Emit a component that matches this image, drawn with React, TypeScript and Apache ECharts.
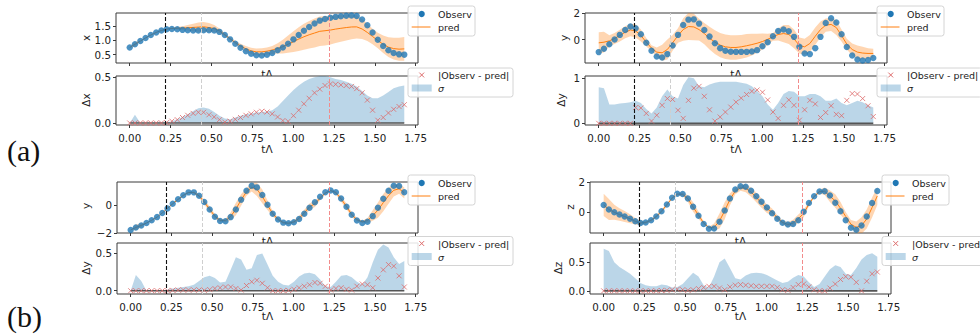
import React, { useEffect, useRef } from "react";
import * as echarts from "echarts";

// ---------- data ----------
const T = [0,0.032,0.065,0.097,0.129,0.162,0.194,0.226,0.258,0.291,0.323,0.355,0.388,0.42,0.452,0.485,0.517,0.549,0.582,0.614,0.646,0.678,0.711,0.743,0.775,0.808,0.84,0.872,0.905,0.937,0.969,1.002,1.034,1.066,1.098,1.131,1.163,1.195,1.228,1.26,1.292,1.325,1.357,1.389,1.422,1.454,1.486,1.518,1.551,1.583,1.615,1.648,1.68];
const EVENT_T = [0.22, 0.44, 1.22];
const X_TICKS = [0, 0.25, 0.5, 0.75, 1.0, 1.25, 1.5, 1.75];
const X_TICK_LABELS = ["0.00", "0.25", "0.50", "0.75", "1.00", "1.25", "1.50", "1.75"];

// (a) x
const OBS_AX = [0.75,0.86,0.97,1.08,1.18,1.27,1.34,1.38,1.39,1.38,1.36,1.35,1.34,1.34,1.35,1.35,1.34,1.29,1.18,1.03,0.88,0.74,0.62,0.53,0.48,0.47,0.5,0.56,0.65,0.75,0.88,1.03,1.18,1.33,1.46,1.58,1.68,1.74,1.78,1.81,1.83,1.85,1.86,1.84,1.72,1.52,1.27,1.02,0.8,0.65,0.56,0.51,0.5];
const PRED_AX = [0.75,0.86,0.97,1.08,1.18,1.27,1.34,1.385,1.41,1.416,1.42,1.434,1.445,1.457,1.467,1.44,1.406,1.326,1.19,1.05,0.92,0.8,0.704,0.63,0.597,0.598,0.62,0.66,0.716,0.776,0.862,0.95,1.04,1.12,1.19,1.25,1.31,1.33,1.353,1.387,1.414,1.44,1.46,1.464,1.39,1.27,1.13,0.99,0.86,0.76,0.71,0.69,0.7];
const SIGMA_AX = [0,0.09,0,0.003,0.003,0.003,0.004,0.006,0.02,0.04,0.065,0.095,0.13,0.16,0.17,0.155,0.12,0.08,0.05,0.04,0.06,0.08,0.095,0.105,0.115,0.12,0.125,0.14,0.18,0.24,0.3,0.36,0.41,0.45,0.48,0.5,0.51,0.51,0.5,0.48,0.47,0.45,0.43,0.4,0.35,0.3,0.27,0.27,0.3,0.34,0.38,0.4,0.41];
const ERR_AX = [0,0,0,0,0,0,0,0.005,0.02,0.036,0.06,0.084,0.105,0.117,0.117,0.09,0.066,0.036,0.01,0.02,0.04,0.06,0.084,0.1,0.117,0.128,0.12,0.1,0.066,0.026,0.018,0.08,0.14,0.21,0.27,0.33,0.37,0.41,0.427,0.423,0.416,0.41,0.4,0.376,0.33,0.25,0.14,0.03,0.06,0.11,0.15,0.18,0.2];

// (a) y
const OBS_AY = [-0.95,-0.7,-0.35,0.0,0.35,0.72,0.98,0.85,0.4,-0.25,-0.85,-1.28,-1.35,-1.1,-0.45,0.35,1.1,1.5,1.52,1.2,0.72,0.22,-0.28,-0.65,-0.85,-0.92,-0.93,-0.93,-0.93,-0.9,-0.8,-0.5,-0.2,0.25,0.65,0.76,0.62,0.2,-0.55,-1.05,-1.1,-0.65,0.2,1.25,1.6,1.28,0.4,-0.57,-1.2,-1.5,-1.58,-1.55,-1.4];
const PRED_AY = [-0.25,-0.2,-0.1,0.08,0.3,0.55,0.72,0.65,0.3,-0.2,-0.65,-0.95,-1.0,-0.75,-0.25,0.3,0.75,0.98,0.95,0.75,0.45,0.1,-0.2,-0.42,-0.55,-0.6,-0.6,-0.55,-0.47,-0.38,-0.28,-0.15,0.02,0.2,0.38,0.45,0.38,0.05,-0.45,-0.55,-0.3,0.25,0.75,1.08,1.14,0.9,0.3,-0.35,-0.75,-0.95,-1.02,-1.05,-1.05];
const SIGMA_AY = [0.8,0.78,0.42,0.42,0.44,0.45,0.47,0.5,0.45,0.32,0.22,0.35,0.6,0.75,0.6,0.55,0.85,1.02,1.0,0.82,0.8,0.86,0.9,0.92,0.92,0.92,0.92,0.9,0.88,0.82,0.72,0.6,0.42,0.3,0.45,0.65,0.72,0.7,0.6,0.6,0.65,0.65,0.6,0.5,0.5,0.55,0.45,0.4,0.45,0.5,0.47,0.4,0.35];
const ERR_AY = [0,0,0,0,0,0,0,0.35,0.34,0.22,0.05,0.18,0.4,0.55,0.53,0.29,0.11,0.51,0.78,0.82,0.6,0.3,0.05,0.14,0.25,0.36,0.47,0.56,0.64,0.71,0.74,0.69,0.52,0.25,0.11,0.4,0.52,0.4,0.07,0.3,0.51,0.43,0.13,0.24,0.39,0.2,0.17,0.51,0.66,0.65,0.55,0.39,0.15];

// (b) y
const OBS_BY = [-1.78,-1.6,-1.45,-1.28,-1.08,-0.85,-0.55,-0.22,0.12,0.44,0.73,0.94,0.94,0.7,0.24,-0.3,-0.82,-1.13,-1.15,-0.85,-0.3,0.4,1.05,1.42,1.3,0.75,0.05,-0.6,-1.02,-1.25,-1.3,-1.22,-0.98,-0.6,-0.18,0.22,0.62,0.95,1.08,0.95,0.5,-0.1,-0.68,-1.1,-1.28,-1.18,-0.78,-0.18,0.48,1.05,1.42,1.4,0.95];
const PRED_BY = [-1.78,-1.6,-1.45,-1.28,-1.08,-0.85,-0.55,-0.22,0.115,0.43,0.72,0.93,0.93,0.69,0.235,-0.285,-0.79,-1.09,-1.1,-0.8,-0.27,0.39,0.98,1.3,1.16,0.65,0.01,-0.6,-1.02,-1.25,-1.295,-1.2,-0.94,-0.54,-0.1,0.11,0.52,0.89,1.07,0.92,0.46,-0.08,-0.67,-1.04,-1.19,-1.1,-0.74,-0.35,0.2,0.7,1.09,1.2,0.9];
const SIGMA_BY = [0,0.21,0.13,0,0,0,0,0.015,0.03,0.04,0.05,0.06,0.08,0.13,0.18,0.2,0.17,0.11,0.12,0.28,0.45,0.42,0.28,0.3,0.48,0.5,0.35,0.2,0.12,0.08,0.07,0.12,0.19,0.23,0.24,0.22,0.15,0.06,0.05,0.12,0.2,0.21,0.18,0.12,0.08,0.18,0.38,0.55,0.62,0.58,0.45,0.36,0.4];
const ERR_BY = [0,0,0,0,0,0,0,0,0.005,0.01,0.01,0.01,0.01,0.01,0.005,0.015,0.03,0.04,0.05,0.05,0.03,0.01,0.07,0.12,0.14,0.1,0.04,0,0,0,0.005,0.02,0.04,0.06,0.08,0.11,0.1,0.06,0.01,0.03,0.04,0.02,0.01,0.06,0.09,0.08,0.04,0.17,0.28,0.35,0.33,0.2,0.05];

// (b) z
const OBS_BZ = [0.47,0.17,-0.02,-0.17,-0.3,-0.45,-0.62,-0.73,-0.7,-0.55,-0.3,0.05,0.5,0.95,1.22,1.2,0.9,0.35,-0.25,-0.8,-1.12,-1.1,-0.65,0.1,0.9,1.5,1.72,1.68,1.42,1.05,0.68,0.3,-0.08,-0.45,-0.72,-0.84,-0.8,-0.55,0.02,0.6,1.05,1.36,1.38,1.1,0.62,0.05,-0.55,-1.05,-1.18,-0.9,-0.3,0.6,1.4];
const PRED_BZ = [0.47,0.17,-0.02,-0.17,-0.3,-0.45,-0.62,-0.73,-0.7,-0.55,-0.3,0.045,0.49,0.93,1.19,1.18,0.89,0.33,-0.21,-0.74,-1.04,-1.02,-0.6,0.08,0.83,1.4,1.61,1.58,1.33,0.97,0.6,0.22,0.0,-0.39,-0.7,-0.83,-0.74,-0.44,-0.1,0.53,1.03,1.36,1.38,1.05,0.74,0.25,-0.3,-0.81,-1.03,-0.9,-0.47,0.3,1.07];
const SIGMA_BZ = [0.74,0.7,0.5,0.42,0.36,0.3,0.22,0.14,0.1,0.08,0.08,0.11,0.1,0.06,0.07,0.12,0.22,0.32,0.25,0.1,0.06,0.25,0.5,0.57,0.4,0.22,0.2,0.27,0.31,0.32,0.31,0.28,0.23,0.18,0.14,0.16,0.23,0.28,0.25,0.15,0.07,0.12,0.25,0.38,0.45,0.42,0.3,0.28,0.4,0.55,0.63,0.66,0.6];
const ERR_BZ = [0,0,0,0,0,0,0,0,0,0,0,0.005,0.01,0.02,0.03,0.02,0.01,0.02,0.04,0.06,0.08,0.08,0.05,0.02,0.07,0.1,0.11,0.1,0.09,0.08,0.08,0.08,0.08,0.06,0.02,0.01,0.06,0.11,0.12,0.07,0.02,0,0,0.05,0.12,0.2,0.25,0.24,0.15,0,0.17,0.3,0.33];

// y tick values / labels
const YT_AX_TOP = [0.5, 1.0, 1.5];   const YL_AX_TOP = ["0.5", "1.0", "1.5"];
const YT_AX_BOT = [0, 0.5];          const YL_AX_BOT = ["0.0", "0.5"];
const YT_AY_TOP = [0, 2];            const YL_AY_TOP = ["0", "2"];
const YT_AY_BOT = [0, 1];            const YL_AY_BOT = ["0", "1"];
const YT_BY_TOP = [-2, 0];           const YL_BY_TOP = ["\u22122", "0"];
const YT_BY_BOT = [0, 0.5];          const YL_BY_BOT = ["0.0", "0.5"];
const YT_BZ_TOP = [0, 2];            const YL_BZ_TOP = ["0", "2"];
const YT_BZ_BOT = [0, 0.5];          const YL_BZ_BOT = ["0.0", "0.5"];

// ---------- styles / layout ----------
const FONT = '"DejaVu Sans", sans-serif';
const OBS_COLOR = "#1f77b4";
const PRED_COLOR = "#ff7f0e";
const BAND_COLOR = "rgba(255,127,14,0.32)";
const SIGMA_COLOR = "rgba(31,119,180,0.3)";
const ERR_COLOR = "#dd6a6a";
const SPINE = "#3a3a3a";
const EVENT_STYLES = [
  { color: "#111", width: 1.1 },
  { color: "#cfcfcf", width: 1.0 },
  { color: "#f28b8b", width: 1.0 },
];
const X_MIN = -0.084, X_MAX = 1.764;

type Sub = {
  kind: "top" | "bottom";
  box: number[];
  yRange: number[];
  yTicks: number[];
  yLabels: string[];
  yName: string;
  yNamePos: number[];
  obs?: number[]; pred?: number[]; sigma: number[]; err?: number[];
};

const SUBS: Sub[] = [
  { kind: "top", box: [116, 13, 302, 50], yRange: [0.21, 1.945], yTicks: YT_AX_TOP, yLabels: YL_AX_TOP, yName: "x", yNamePos: [86, 38], obs: OBS_AX, pred: PRED_AX, sigma: SIGMA_AX },
  { kind: "bottom", box: [116, 76, 302, 49], yRange: [-0.022, 0.514], yTicks: YT_AX_BOT, yLabels: YL_AX_BOT, yName: "\u0394x", yNamePos: [86, 100], sigma: SIGMA_AX, err: ERR_AX },
  { kind: "top", box: [585, 13, 302, 50], yRange: [-1.77, 2.0], yTicks: YT_AY_TOP, yLabels: YL_AY_TOP, yName: "y", yNamePos: [564, 38], obs: OBS_AY, pred: PRED_AY, sigma: SIGMA_AY },
  { kind: "bottom", box: [585, 76, 302, 49], yRange: [-0.037, 1.05], yTicks: YT_AY_BOT, yLabels: YL_AY_BOT, yName: "\u0394y", yNamePos: [561, 100], sigma: SIGMA_AY, err: ERR_AY },
  { kind: "top", box: [117, 182, 301, 51], yRange: [-2.0, 1.69], yTicks: YT_BY_TOP, yLabels: YL_BY_TOP, yName: "y", yNamePos: [86, 206], obs: OBS_BY, pred: PRED_BY, sigma: SIGMA_BY },
  { kind: "bottom", box: [117, 243, 301, 51], yRange: [-0.044, 0.64], yTicks: YT_BY_BOT, yLabels: YL_BY_BOT, yName: "\u0394y", yNamePos: [86, 268], sigma: SIGMA_BY, err: ERR_BY },
  { kind: "top", box: [590, 182, 301, 51], yRange: [-1.4, 2.0], yTicks: YT_BZ_TOP, yLabels: YL_BZ_TOP, yName: "z", yNamePos: [570, 207], obs: OBS_BZ, pred: PRED_BZ, sigma: SIGMA_BZ },
  { kind: "bottom", box: [590, 243, 301, 51], yRange: [-0.055, 0.84], yTicks: YT_BZ_BOT, yLabels: YL_BZ_BOT, yName: "\u0394z", yNamePos: [558, 268], sigma: SIGMA_BZ, err: ERR_BZ },
];

function labelFor(ticks: number[], labels: string[]) {
  return (v: number) => {
    for (let k = 0; k < ticks.length; k++) if (Math.abs(ticks[k] - v) < 1e-6) return labels[k];
    return "";
  };
}

function eventMarkLine() {
  return {
    silent: true,
    symbol: ["none", "none"],
    label: { show: false },
    animation: false,
    data: EVENT_T.map((t, k) => ({
      xAxis: t,
      lineStyle: { color: EVENT_STYLES[k].color, width: EVENT_STYLES[k].width, type: [4, 2] },
    })),
  };
}

function txt(x: number, y: number, text: string, size: number, extra: any = {}) {
  return {
    type: "text",
    x, y,
    z: extra.z ?? 60,
    rotation: extra.rotation ?? 0,
    silent: true,
    style: {
      text,
      fontSize: size,
      fontFamily: extra.family ?? FONT,
      fontStyle: extra.italic ? "italic" : "normal",
      fill: extra.fill ?? "#222",
      textAlign: extra.align ?? "center",
      textVerticalAlign: "middle",
      align: extra.align ?? "center",
      verticalAlign: "middle",
    },
  };
}

function legendTop(x: number, y: number) {
  return [
    { type: "rect", z: 50, silent: true, shape: { x, y, width: 67, height: 30, r: 2.5 }, style: { fill: "rgba(255,255,255,0.85)", stroke: "#d4d4d4", lineWidth: 1 } },
    { type: "circle", z: 51, silent: true, shape: { cx: x + 13.7, cy: y + 8, r: 3.1 }, style: { fill: OBS_COLOR } },
    txt(x + 30, y + 8.5, "Observ", 9.5, { align: "left" }),
    { type: "line", z: 51, silent: true, shape: { x1: x + 3.7, y1: y + 21, x2: x + 22.5, y2: y + 21 }, style: { stroke: PRED_COLOR, lineWidth: 1 } },
    txt(x + 30, y + 21.5, "pred", 9.5, { align: "left" }),
  ];
}

function legendBottom(x: number, y: number) {
  const cx = x + 13.7, cy = y + 7;
  return [
    { type: "rect", z: 50, silent: true, shape: { x, y, width: 105, height: 29, r: 2.5 }, style: { fill: "rgba(255,255,255,0.85)", stroke: "#d4d4d4", lineWidth: 1 } },
    { type: "line", z: 51, silent: true, shape: { x1: cx - 2.4, y1: cy - 2.4, x2: cx + 2.4, y2: cy + 2.4 }, style: { stroke: ERR_COLOR, lineWidth: 1 } },
    { type: "line", z: 51, silent: true, shape: { x1: cx - 2.4, y1: cy + 2.4, x2: cx + 2.4, y2: cy - 2.4 }, style: { stroke: ERR_COLOR, lineWidth: 1 } },
    txt(x + 30, y + 7.5, "|Observ - pred|", 9.5, { align: "left" }),
    { type: "rect", z: 51, silent: true, shape: { x: x + 3.7, y: y + 16.5, width: 20, height: 7 }, style: { fill: SIGMA_COLOR } },
    txt(x + 30, y + 20.5, "\u03c3", 9.5, { align: "left", italic: true }),
  ];
}

function buildOption() {
  const grid = SUBS.map((s) => ({
    left: s.box[0], top: s.box[1], width: s.box[2], height: s.box[3],
    show: true, backgroundColor: "#fff", borderColor: SPINE, borderWidth: 1, containLabel: false,
  }));
  const xAxis = SUBS.map((s, i) => ({
    type: "value", gridIndex: i, min: X_MIN, max: X_MAX, position: "bottom",
    axisLine: { show: false, onZero: false }, splitLine: { show: false },
    axisTick: { show: true, inside: false, length: 3, lineStyle: { color: SPINE, width: 1 }, customValues: X_TICKS },
    axisLabel: {
      show: s.kind === "bottom", customValues: X_TICKS, formatter: labelFor(X_TICKS, X_TICK_LABELS),
      margin: 7.5, fontFamily: FONT, fontSize: 10.3, color: "#222",
    },
  }));
  const yAxis = SUBS.map((s, i) => ({
    type: "value", gridIndex: i, min: s.yRange[0], max: s.yRange[1], position: "left",
    axisLine: { show: false, onZero: false }, splitLine: { show: false },
    axisTick: { show: true, inside: false, length: 3, lineStyle: { color: SPINE, width: 1 }, customValues: s.yTicks },
    axisLabel: { show: true, customValues: s.yTicks, formatter: labelFor(s.yTicks, s.yLabels), margin: 5, fontFamily: FONT, fontSize: 10.3, color: "#222" },
  }));

  const series: any[] = [];
  SUBS.forEach((s, i) => {
    if (s.kind === "top") {
      const pred = s.pred as number[];
      const sigma = s.sigma;
      series.push({
        type: "custom", xAxisIndex: i, yAxisIndex: i, silent: true, clip: true, z: 1,
        data: [[T[0], pred[0]]],
        renderItem: (_p: any, api: any) => {
          const upper = T.map((t, k) => api.coord([t, pred[k] + sigma[k]]));
          const lower = T.map((t, k) => api.coord([t, pred[k] - sigma[k]])).reverse();
          return { type: "polygon", shape: { points: upper.concat(lower) }, style: { fill: BAND_COLOR } };
        },
      });
      series.push({
        type: "line", xAxisIndex: i, yAxisIndex: i, silent: true, z: 2, symbol: "none",
        data: T.map((t, k) => [t, pred[k]]), lineStyle: { color: PRED_COLOR, width: 1 },
      });
      series.push({
        type: "scatter", xAxisIndex: i, yAxisIndex: i, silent: true, z: 3, symbol: "circle", symbolSize: 6.4,
        data: T.map((t, k) => [t, (s.obs as number[])[k]]), itemStyle: { color: OBS_COLOR },
        markLine: eventMarkLine(),
      });
    } else {
      series.push({
        type: "line", xAxisIndex: i, yAxisIndex: i, silent: true, z: 1, symbol: "none",
        data: T.map((t, k) => [t, s.sigma[k]]), lineStyle: { width: 0, opacity: 0 },
        areaStyle: { color: SIGMA_COLOR, opacity: 1 },
      });
      series.push({
        type: "line", xAxisIndex: i, yAxisIndex: i, silent: true, z: 2, symbol: "none",
        data: [[T[0], 0], [T[T.length - 1], 0]], lineStyle: { color: "#555", width: 1.6 },
      });
      series.push({
        type: "scatter", xAxisIndex: i, yAxisIndex: i, silent: true, z: 3,
        symbol: "path://M0,0L10,10M10,0L0,10", symbolSize: 5,
        data: T.map((t, k) => [t, (s.err as number[])[k]]),
        itemStyle: { color: "rgba(0,0,0,0)", borderColor: ERR_COLOR, borderWidth: 1 },
        markLine: eventMarkLine(),
      });
    }
  });

  const graphic: any[] = [];
  // row labels
  graphic.push(txt(7, 150, "(a)", 30, { align: "left", family: '"Liberation Serif", serif', fill: "#111" }));
  graphic.push(txt(7, 316, "(b)", 30, { align: "left", family: '"Liberation Serif", serif', fill: "#111" }));
  // y axis names
  SUBS.forEach((s) => graphic.push(txt(s.yNamePos[0], s.yNamePos[1], s.yName, 10.5, { rotation: Math.PI / 2 })));
  // x axis names
  const XNAME_BOTTOM = [[267, 148.5], [736, 148.5], [267.5, 315.5], [740.5, 315.5]];
  const XNAME_HIDDEN = [[267, 73.5], [736, 73.5], [267.5, 240.5], [740.5, 240.5]];
  XNAME_BOTTOM.forEach((p) => graphic.push(txt(p[0], p[1], "t\u039b", 10.5)));
  XNAME_HIDDEN.forEach((p) => graphic.push(txt(p[0], p[1], "t\u039b", 10.5, { z: -1 })));
  // legends
  const LEG_TOP = [[408, 6], [877, 6], [408, 175], [882, 175]];
  const LEG_BOT = [[408, 68], [877, 68], [408, 236.5], [882, 236.5]];
  LEG_TOP.forEach((p) => graphic.push(...legendTop(p[0], p[1])));
  LEG_BOT.forEach((p) => graphic.push(...legendBottom(p[0], p[1])));

  return {
    animation: false,
    backgroundColor: "#fff",
    grid, xAxis, yAxis, series,
    graphic: { elements: graphic },
  };
}

export default function App() {
  const ref = useRef<HTMLDivElement>(null);
  useEffect(() => {
    if (!ref.current) return;
    const chart = echarts.init(ref.current, undefined, { renderer: "svg" });
    chart.setOption(buildOption() as any);
    return () => chart.dispose();
  }, []);
  return (
    <div
      ref={ref}
      style={{ position: "fixed", left: 0, top: 0, width: 980, height: 334, background: "#fff" }}
    />
  );
}
